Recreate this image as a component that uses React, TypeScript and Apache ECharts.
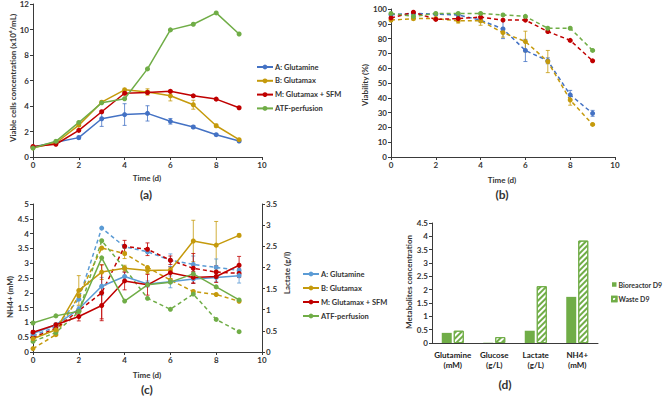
import React, { useEffect, useRef } from "react";
import * as echarts from "echarts";

const FONT = 'Lato, "Liberation Sans", sans-serif';

// shared x values (days)
const days = [0, 1, 2, 3, 4, 5, 6, 7, 8, 9];
const legendLabels = ["A: Glutamine", "B: Glutamax", "M: Glutamax + SFM", "ATF-perfusion"];

// (a) Viable cells concentration (x10^6/mL)
const vcdA = [0.78, 1.15, 1.52, 3.0, 3.33, 3.42, 2.8, 2.35, 1.75, 1.25];
const vcdB = [0.72, 1.1, 2.5, 4.3, 5.27, 5.1, 4.8, 4.1, 2.45, 1.36];
const vcdM = [0.83, 1.0, 2.09, 3.55, 5.0, 5.06, 5.15, 4.8, 4.54, 3.86];
const vcdF = [0.7, 1.23, 2.71, 4.25, 4.57, 6.91, 9.97, 10.41, 11.3, 9.65];
const vcdErrA = [0.05, 0.1, 0.12, 0.6, 0.85, 0.6, 0.22, 0.1, 0.08, 0.08];
const vcdErrB = [0.05, 0.1, 0.1, 0.1, 0.12, 0.25, 0.4, 0.35, 0.12, 0.08];
const vcdErrM = [0.05, 0.05, 0.08, 0.08, 0.1, 0.1, 0.1, 0.08, 0.08, 0.08];
const vcdErrF = [0.05, 0.1, 0.05, 0.05, 0.05, 0.05, 0.05, 0.05, 0.05, 0.05];

// (b) Viability (%)
const viaA = [96.2, 97, 96.5, 96, 92.5, 86.5, 72, 65, 42, 29.5];
const viaB = [92.5, 93.5, 93.5, 92, 92, 84, 78, 64.5, 38.5, 22];
const viaM = [94, 97.8, 93, 93.5, 94.5, 92.5, 92.5, 84.8, 78.8, 65];
const viaF = [97, 95, 97, 97, 97, 96, 95, 87, 87, 72];
const viaErrA = [1, 0.5, 0.5, 1, 1.5, 6.5, 7.5, 2, 3, 2];
const viaErrB = [1, 1, 1, 1.5, 3, 3, 7, 7.5, 3.5, 0.5];
const viaErrM = [0.5, 0.5, 0.5, 0.5, 0.5, 0.5, 0.5, 0.5, 0.5, 0.5];
const viaErrF = [0.5, 0.5, 0.5, 0.5, 0.5, 0.5, 0.5, 0.5, 0.5, 0.5];

// (c) NH4+ (mM), solid lines, left axis
const nh4A = [0.62, 0.92, 1.45, 2.22, 2.55, 2.3, 2.37, 2.47, 2.52, 2.58];
const nh4B = [0.45, 0.75, 2.08, 2.7, 2.83, 2.75, 2.77, 3.75, 3.61, 3.94];
const nh4M = [0.67, 0.92, 1.2, 1.57, 2.4, 2.27, 2.68, 2.52, 2.55, 2.93];
const nh4F = [0.98, 1.22, 1.38, 3.18, 1.72, 2.27, 2.36, 2.64, 2.2, 1.76];
const nh4ErrA = [0, 0, 0.1, 0.3, 0.15, 0.1, 0.2, 0.15, 0.15, 0.25];
const nh4ErrB = [0, 0, 0.5, 0.25, 0.1, 0.1, 0.1, 0.7, 0.8, 0.05];
const nh4ErrM = [0.05, 0.05, 0.15, 0.45, 0.3, 0.35, 0.2, 0.2, 0.2, 0.3];
const nh4ErrF = [0, 0, 0, 0, 0, 0, 0, 0, 0, 0];

// (c) Lactate (g/l), dashed lines, right axis
const lacA = [0.38, 0.6, 1.25, 2.93, 2.49, 2.37, 2.17, 2.07, 2.0, 1.93];
const lacB = [0.08, 0.41, 1.33, 2.46, 2.33, 2.0, 1.7, 1.43, 1.36, 1.2];
const lacM = [0.34, 0.56, 0.98, 1.4, 2.5, 2.43, 2.17, 1.98, 1.89, 1.86];
const lacF = [0.25, 0.46, 0.95, 2.63, 1.98, 1.27, 1.01, 1.37, 0.77, 0.48];
const lacErrA = [0, 0, 0, 0, 0, 0, 0.15, 0.2, 0.2, 0.1];
const lacErrB = [0, 0, 0, 0, 0.12, 0, 0, 0, 0, 0];
const lacErrM = [0, 0, 0, 0.66, 0.14, 0.15, 0.1, 0.35, 0.15, 0.1];
const lacErrF = [0, 0, 0, 0, 0, 0, 0, 0, 0, 0];

// (d) Metabolites concentration
const metCats = ["Glutamine\n(mM)", "Glucose\n(g/L)", "Lactate\n(g/L)", "NH4+\n(mM)"];
const bioD9 = [0.38, 0.01, 0.46, 1.73];
const wasteD9 = [0.46, 0.22, 2.13, 3.84];

const BLUE = "#4472C4";
const LBLUE = "#5B9BD5";
const GOLD = "#C59A0C";
const RED = "#C00000";
const GREEN = "#70AD47";
const AXIS = "#3a3a3a";
const TXT = "#333333";

const nameMap: Record<string, string> = {
  aA: legendLabels[0], aB: legendLabels[1], aM: legendLabels[2], aF: legendLabels[3],
  cA: legendLabels[0], cB: legendLabels[1], cM: legendLabels[2], cF: legendLabels[3],
};

function lineSeries(name: string, vals: number[], color: string, xi: number, yi: number, dashed: boolean) {
  return {
    type: "line",
    name,
    xAxisIndex: xi,
    yAxisIndex: yi,
    data: days.map((d, i) => [d, vals[i]]),
    symbol: "circle",
    symbolSize: 5,
    itemStyle: { color },
    lineStyle: { color, width: 1.5, type: dashed ? [4, 3] : "solid" },
    z: 3,
  };
}

function errSeries(name: string, vals: number[], errs: number[], color: string, xi: number, yi: number) {
  return {
    type: "custom",
    name,
    xAxisIndex: xi,
    yAxisIndex: yi,
    silent: true,
    z: 2,
    encode: { x: 0, y: 1 },
    data: days.map((d, i) => [d, vals[i], errs[i]]),
    renderItem: (params: any, api: any) => {
      const x = api.value(0);
      const y = api.value(1);
      const e = api.value(2);
      if (!e) return { type: "group", children: [] };
      const p1 = api.coord([x, y + e]);
      const p2 = api.coord([x, y - e]);
      const w = 2;
      const style = { stroke: color, lineWidth: 0.8 };
      return {
        type: "group",
        children: [
          { type: "line", shape: { x1: p1[0], y1: p1[1], x2: p2[0], y2: p2[1] }, style },
          { type: "line", shape: { x1: p1[0] - w, y1: p1[1], x2: p1[0] + w, y2: p1[1] }, style },
          { type: "line", shape: { x1: p2[0] - w, y1: p2[1], x2: p2[0] + w, y2: p2[1] }, style },
        ],
      };
    },
  };
}

const axisCommon = {
  axisLine: { show: true, onZero: false, lineStyle: { color: AXIS, width: 1 } },
  axisTick: { show: true, length: 3, lineStyle: { color: AXIS, width: 1 } },
  axisLabel: { fontSize: 8, fontWeight: "bold", fontFamily: FONT, color: TXT, margin: 4 },
  splitLine: { show: false },
};

function vText(text: string, x: number, y: number) {
  return {
    type: "text",
    x,
    y,
    rotation: Math.PI / 2,
    style: { text, font: `bold 8px ${FONT}`, fill: TXT, align: "center", verticalAlign: "middle" },
  };
}
function hText(text: string, x: number, y: number, size = 8) {
  return {
    type: "text",
    x,
    y,
    style: { text, font: `bold ${size}px ${FONT}`, fill: TXT, align: "center", verticalAlign: "middle" },
  };
}

export default function App() {
  const ref = useRef<HTMLDivElement>(null);
  useEffect(() => {
    if (!ref.current) return;
    const chart = echarts.init(ref.current, undefined, { renderer: "svg" });
    const legendText = { fontSize: 7.5, fontWeight: "bold", fontFamily: FONT, color: TXT, padding: [0, 0, 0, -3] };
    const option: any = {
      animation: false,
      backgroundColor: "#ffffff",
      grid: [
        { left: 33, top: 4, width: 229, height: 153 },
        { left: 391, top: 9, width: 224, height: 148 },
        { left: 33, top: 204, width: 229, height: 148 },
        { left: 432, top: 223, width: 166, height: 120 },
      ],
      xAxis: [
        { ...axisCommon, gridIndex: 0, type: "value", min: 0, max: 10, interval: 2 },
        { ...axisCommon, gridIndex: 1, type: "value", min: 0, max: 10, interval: 2 },
        { ...axisCommon, gridIndex: 2, type: "value", min: 0, max: 10, interval: 2 },
        {
          ...axisCommon,
          gridIndex: 3,
          type: "category",
          data: metCats,
          axisTick: { show: false },
          axisLabel: { ...axisCommon.axisLabel, interval: 0, margin: 7, lineHeight: 10, color: "#222" },
        },
      ],
      yAxis: [
        { ...axisCommon, gridIndex: 0, type: "value", min: 0, max: 12, interval: 2 },
        { ...axisCommon, gridIndex: 1, type: "value", min: 0, max: 100, interval: 10 },
        { ...axisCommon, gridIndex: 2, type: "value", min: 0, max: 5, interval: 0.5 },
        { ...axisCommon, gridIndex: 2, type: "value", min: 0, max: 3.5, interval: 0.5, position: "right" },
        { ...axisCommon, gridIndex: 3, type: "value", min: 0, max: 4.5, interval: 0.5 },
      ],
      legend: [
        {
          orient: "vertical",
          left: 251,
          top: 58,
          itemWidth: 16,
          itemHeight: 6,
          itemGap: 5.8,
          data: ["aA", "aB", "aM", "aF"],
          formatter: (n: string) => nameMap[n],
          textStyle: legendText,
          selectedMode: false,
        },
        {
          orient: "vertical",
          left: 297,
          top: 265,
          itemWidth: 16,
          itemHeight: 6,
          itemGap: 6,
          data: ["cA", "cB", "cM", "cF"],
          formatter: (n: string) => nameMap[n],
          textStyle: legendText,
          selectedMode: false,
        },
        {
          orient: "vertical",
          left: 606,
          top: 276,
          itemWidth: 4.5,
          itemHeight: 4.5,
          itemGap: 7.5,
          icon: "rect",
          data: ["Bioreactor D9", "Waste D9"],
          textStyle: { ...legendText, fontSize: 7 },
          selectedMode: false,
        },
      ],
      graphic: [
        vText("Viable cells concentration (x10⁶/mL)", 13, 78),
        hText("Time (d)", 147, 178),
        hText("(a)", 146, 194, 12),
        vText("Viability (%)", 365, 85),
        hText("Time (d)", 502, 180),
        hText("(b)", 502, 194, 12),
        vText("NH4+ (mM)", 10, 297),
        vText("Lactate (g/l)", 287, 273),
        hText("Time (d)", 147, 375),
        hText("(c)", 147, 389, 12),
        vText("Metabolites concentration", 409, 282),
        hText("(d)", 505, 384, 12),
      ],
      series: [
        // (a)
        errSeries("eaA", vcdA, vcdErrA, BLUE, 0, 0),
        errSeries("eaB", vcdB, vcdErrB, GOLD, 0, 0),
        errSeries("eaM", vcdM, vcdErrM, RED, 0, 0),
        errSeries("eaF", vcdF, vcdErrF, GREEN, 0, 0),
        lineSeries("aA", vcdA, BLUE, 0, 0, false),
        lineSeries("aB", vcdB, GOLD, 0, 0, false),
        lineSeries("aM", vcdM, RED, 0, 0, false),
        lineSeries("aF", vcdF, GREEN, 0, 0, false),
        // (b)
        errSeries("ebA", viaA, viaErrA, BLUE, 1, 1),
        errSeries("ebB", viaB, viaErrB, GOLD, 1, 1),
        errSeries("ebM", viaM, viaErrM, RED, 1, 1),
        errSeries("ebF", viaF, viaErrF, GREEN, 1, 1),
        lineSeries("bA", viaA, BLUE, 1, 1, true),
        lineSeries("bB", viaB, GOLD, 1, 1, true),
        lineSeries("bM", viaM, RED, 1, 1, true),
        lineSeries("bF", viaF, GREEN, 1, 1, true),
        // (c)
        errSeries("ecA", nh4A, nh4ErrA, LBLUE, 2, 2),
        errSeries("ecB", nh4B, nh4ErrB, GOLD, 2, 2),
        errSeries("ecM", nh4M, nh4ErrM, RED, 2, 2),
        errSeries("ecF", nh4F, nh4ErrF, GREEN, 2, 2),
        errSeries("elA", lacA, lacErrA, LBLUE, 2, 3),
        errSeries("elB", lacB, lacErrB, GOLD, 2, 3),
        errSeries("elM", lacM, lacErrM, RED, 2, 3),
        errSeries("elF", lacF, lacErrF, GREEN, 2, 3),
        lineSeries("lA", lacA, LBLUE, 2, 3, true),
        lineSeries("lB", lacB, GOLD, 2, 3, true),
        lineSeries("lM", lacM, RED, 2, 3, true),
        lineSeries("lF", lacF, GREEN, 2, 3, true),
        lineSeries("cA", nh4A, LBLUE, 2, 2, false),
        lineSeries("cB", nh4B, GOLD, 2, 2, false),
        lineSeries("cM", nh4M, RED, 2, 2, false),
        lineSeries("cF", nh4F, GREEN, 2, 2, false),
        // (d)
        {
          type: "bar",
          name: "Bioreactor D9",
          xAxisIndex: 3,
          yAxisIndex: 4,
          data: bioD9,
          barWidth: 10,
          barGap: "20%",
          itemStyle: { color: GREEN },
        },
        {
          type: "bar",
          name: "Waste D9",
          xAxisIndex: 3,
          yAxisIndex: 4,
          data: wasteD9,
          barWidth: 10,
          itemStyle: {
            color: "#ffffff",
            borderColor: GREEN,
            borderWidth: 1,
            decal: {
              symbol: "rect",
              symbolSize: 1,
              color: GREEN,
              dashArrayX: [1, 0],
              dashArrayY: [1.5, 1.5],
              rotation: -Math.PI / 4,
            },
          },
        },
      ],
    };
    chart.setOption(option);
    return () => chart.dispose();
  }, []);
  return (
    <div
      ref={ref}
      style={{ position: "fixed", left: 0, top: 0, width: 669, height: 401, background: "#fff" }}
    />
  );
}
